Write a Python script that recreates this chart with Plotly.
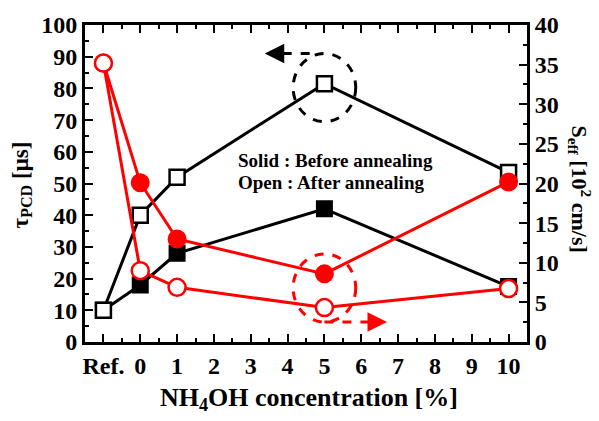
import plotly.graph_objects as go

x_vals = [-1, 0, 1, 5, 10]
x_ticks = [-1, 0, 1, 2, 3, 4, 5, 6, 7, 8, 9, 10]
x_ticktext = ["Ref.", "0", "1", "2", "3", "4", "5", "6", "7", "8", "9", "10"]

tau_before = [10, 18, 28, 42, 17.5]
tau_after = [10, 40, 52, 81.5, 53.5]
seff_before = [35.2, 20.1, 13.0, 8.6, 20.2]
seff_after = [35.2, 9.0, 6.9, 4.35, 6.75]

FONT = "Liberation Serif"
BLACK = "#000000"
RED = "#ff0000"

fig = go.Figure()

fig.add_trace(go.Scatter(x=x_vals, y=tau_before, mode="lines+markers",
                         line=dict(color=BLACK, width=3),
                         marker=dict(symbol="square", size=15, color=BLACK,
                                     line=dict(color=BLACK, width=2)),
                         yaxis="y", showlegend=False))
fig.add_trace(go.Scatter(x=x_vals, y=tau_after, mode="lines+markers",
                         line=dict(color=BLACK, width=3),
                         marker=dict(symbol="square", size=15, color="white",
                                     line=dict(color=BLACK, width=2.5)),
                         yaxis="y", showlegend=False))
fig.add_trace(go.Scatter(x=x_vals, y=seff_before, mode="lines+markers",
                         line=dict(color=RED, width=3),
                         marker=dict(symbol="circle", size=17, color=RED,
                                     line=dict(color=RED, width=2)),
                         yaxis="y2", showlegend=False))
fig.add_trace(go.Scatter(x=x_vals, y=seff_after, mode="lines+markers",
                         line=dict(color=RED, width=3),
                         marker=dict(symbol="circle", size=17, color="white",
                                     line=dict(color=RED, width=2.5)),
                         yaxis="y2", showlegend=False))

tickfont = dict(family=FONT, size=24, color=BLACK, weight="bold")

fig.update_layout(
    width=599, height=421,
    margin=dict(l=85, r=72, t=18, b=79),
    paper_bgcolor="white", plot_bgcolor="white",
    font=dict(family=FONT, color=BLACK),
    xaxis=dict(range=[-1.5, 10.5], tickmode="array", tickvals=x_ticks,
               ticktext=x_ticktext, ticks="inside", ticklen=8, tickwidth=2,
               tickcolor=BLACK, showline=True, linewidth=3, linecolor=BLACK,
               mirror="ticks", showgrid=False, zeroline=False,
               tickfont=tickfont,
               minor=dict(tickmode="array",
                          tickvals=[-0.5 + i for i in range(11)],
                          ticks="inside", ticklen=4, tickwidth=2, tickcolor=BLACK)),
    yaxis=dict(range=[0, 100], dtick=10, ticks="inside", ticklen=8, tickwidth=2,
               tickcolor=BLACK, showline=True, linewidth=3, linecolor=BLACK,
               showgrid=False, zeroline=False, tickfont=tickfont,
               minor=dict(dtick=5, ticks="inside", ticklen=4, tickwidth=2,
                          tickcolor=BLACK)),
    yaxis2=dict(range=[0, 40], dtick=5, overlaying="y", side="right",
                ticks="inside", ticklen=8, tickwidth=2, tickcolor=BLACK,
                showline=True, linewidth=3, linecolor=BLACK, showgrid=False,
                zeroline=False, tickfont=tickfont,
                minor=dict(dtick=2.5, ticks="inside", ticklen=4, tickwidth=2,
                           tickcolor=BLACK)),
)

# Dashed ellipses
fig.add_shape(type="circle", xref="x", yref="y", x0=4.15, x1=5.85, y0=69.5, y1=91,
              line=dict(color=BLACK, width=3, dash="dash"))
fig.add_shape(type="circle", xref="x", yref="y", x0=4.15, x1=5.85, y0=6.3, y1=27.8,
              line=dict(color=RED, width=3, dash="dash"))
# Dashed arrow shafts
fig.add_shape(type="line", xref="x", yref="y", x0=4.6, x1=3.6, y0=91, y1=91,
              line=dict(color=BLACK, width=3, dash="dash"))
fig.add_shape(type="line", xref="x", yref="y", x0=5.0, x1=6.4, y0=6.3, y1=6.3,
              line=dict(color=RED, width=3, dash="dash"))
# Arrow heads
fig.add_annotation(x=3.38, y=91, xref="x", yref="y", ax=14, ay=0, text="",
                   showarrow=True, arrowhead=2, arrowsize=1.3, arrowwidth=3,
                   arrowcolor=BLACK)
fig.add_annotation(x=6.7, y=6.3, xref="x", yref="y", ax=-14, ay=0, text="",
                   showarrow=True, arrowhead=2, arrowsize=1.3, arrowwidth=3,
                   arrowcolor=RED)

bold = lambda s: dict(family=FONT, size=s, color=BLACK, weight="bold")

# Legend text
fig.add_annotation(x=(236 - 85) / 442, y=1 - (156 - 18) / 324, xref="paper", yref="paper",
                   text="Solid : Before annealing", showarrow=False,
                   xanchor="left", yanchor="middle", font=bold(19))
fig.add_annotation(x=(236 - 85) / 442, y=1 - (179 - 18) / 324, xref="paper", yref="paper",
                   text="Open : After annealing", showarrow=False,
                   xanchor="left", yanchor="middle", font=bold(19))

# Axis titles
fig.add_annotation(x=(22 - 85) / 442, y=1 - (182 - 18) / 324, xref="paper", yref="paper",
                   text="τ<sub>PCD</sub> [μs]", showarrow=False, textangle=-90,
                   xanchor="center", yanchor="middle", font=bold(23))
fig.add_annotation(x=(580 - 85) / 442, y=1 - (185 - 18) / 324, xref="paper", yref="paper",
                   text="S<sub>eff</sub> [10<sup>2</sup> cm/s]", showarrow=False,
                   textangle=90, xanchor="center", yanchor="middle", font=bold(22))
fig.add_annotation(x=(309 - 85) / 442, y=1 - (400 - 18) / 324, xref="paper", yref="paper",
                   text="NH<sub>4</sub>OH concentration [%]", showarrow=False,
                   xanchor="center", yanchor="middle", font=bold(26))

fig.write_html("out.html")
